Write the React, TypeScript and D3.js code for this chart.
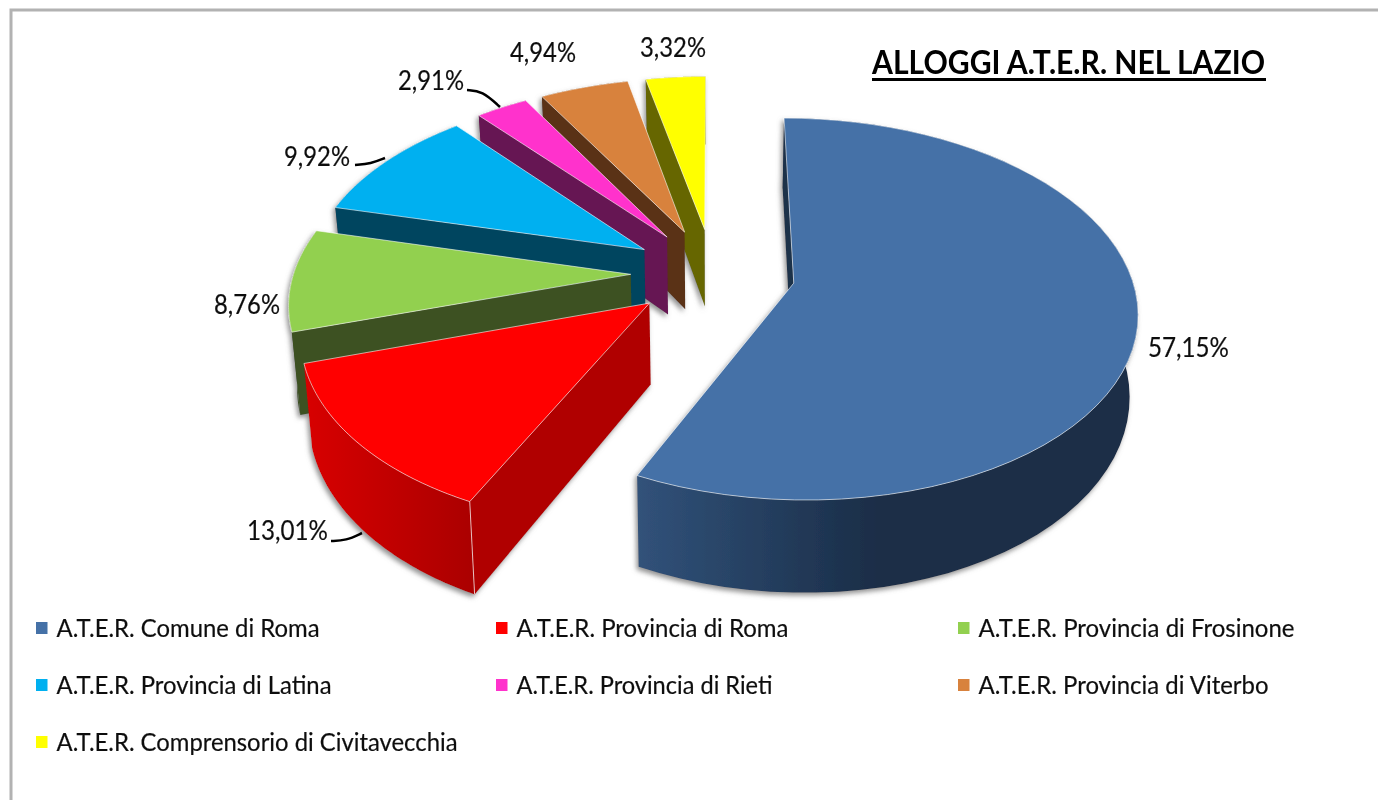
import React from "react";
import * as d3 from "d3";

const categories = [
  "A.T.E.R. Comune di Roma",
  "A.T.E.R. Provincia di Roma",
  "A.T.E.R. Provincia di Frosinone",
  "A.T.E.R. Provincia di Latina",
  "A.T.E.R. Provincia di Rieti",
  "A.T.E.R. Provincia di Viterbo",
  "A.T.E.R. Comprensorio di Civitavecchia",
];
const values = [57.15, 13.01, 8.76, 9.92, 2.91, 4.94, 3.32];
const valueLabels = ["57,15%", "13,01%", "8,76%", "9,92%", "2,91%", "4,94%", "3,32%"];
const topColors = ["#4471a7", "#ff0000", "#92d050", "#00b0f0", "#ff33cc", "#d8823c", "#ffff00"];
const faceColors = ["#1c3048", "#b00000", "#3d5120", "#00455f", "#661353", "#5a3318", "#666600"];
const wallStart = ["#31527a", "#d80000", "#3d5120", "#00455f", "#661353", "#5a3318", "#666600"];
const wallEnd = ["#1a2d47", "#aa0000", "#3d5120", "#00455f", "#661353", "#5a3318", "#666600"];

const labelX = [1148, 247, 214, 284, 398, 510, 640];
const labelY = [357, 540, 314, 166, 90, 62, 57];
const legendTextWidths = [263, 272, 316, 275, 256, 290, 401];
const leaders: [number, number][][] = [
  [],
  [[331, 541], [346, 541], [362, 533]],
  [],
  [[355, 165], [371, 164], [385, 158]],
  [[467, 90], [482, 90], [500, 107]],
  [],
  [],
];

// Pseudo-3D projection of the tilted pie
const CX = 713, CY = 273, RX = 337, RY = 184.7, PERSP = 0.135, DEPTH = 79.5, EXPLODE = 0.244, LEAN = 0.02;
const project = (X: number, Y: number, Z: number): [number, number] => {
  const s = 1 / (1 + PERSP * Y);
  return [CX + RX * X * s * (1 - LEAN * Z), CY - RY * Y * s + DEPTH * Z * s];
};

const arcs = d3.pie<number>().sort(null).startAngle(0).endAngle(2 * Math.PI)(values);
const line = d3.line();

const slices = arcs.map((a, i) => {
  const mid = (a.startAngle + a.endAngle) / 2;
  const ox = EXPLODE * Math.sin(mid);
  const oy = EXPLODE * Math.cos(mid);
  const steps = d3.range(0, 61).map((k) => a.startAngle + ((a.endAngle - a.startAngle) * k) / 60);
  const rim = (z: number) => steps.map((t) => project(ox + Math.sin(t), oy + Math.cos(t), z));
  const top = rim(0);
  const bottom = rim(1);
  const apex = project(ox, oy, 0);
  const apexB = project(ox, oy, 1);
  const topPath = line([apex, ...top])! + "Z";
  const wallPath = line([...top, ...bottom.slice().reverse()])! + "Z";
  const startFace = line([apex, top[0], bottom[0], apexB])! + "Z";
  const corner = line([top[0], bottom[0]])!;
  return { i, topPath, wallPath, startFace, corner };
});

const order = d3.range(values.length).slice(1).reverse().concat([0]);

const legendCols = [36, 496, 958];
const legendRows = [622, 679, 736];
const font = "Lato, 'Open Sans', sans-serif";

export default function App() {
  return (
    <svg width={1378} height={800} style={{ position: "absolute", left: 0, top: 0, background: "#fff" }}>
      <defs>
        <filter id="soft" x="-5%" y="-5%" width="110%" height="110%">
          <feGaussianBlur stdDeviation="0.6" />
        </filter>
        <filter id="shadow" x="-10%" y="-10%" width="120%" height="120%">
          <feDropShadow dx="-2" dy="3" stdDeviation="2.5" floodColor="#777" floodOpacity="0.8" />
        </filter>
        {slices.map((s) => (
          <linearGradient key={s.i} id={`wall${s.i}`} x1="0" x2="1" y1="0" y2="0">
            <stop offset="0" stopColor={wallStart[s.i]} />
            <stop offset={s.i === 0 ? 0.48 : 1} stopColor={wallEnd[s.i]} />
            <stop offset="1" stopColor={wallEnd[s.i]} />
          </linearGradient>
        ))}
      </defs>
      <g filter="url(#soft)">
        <path d="M11,800V10H1378" fill="none" stroke="#b2b2b2" strokeWidth={3} />
        <g filter="url(#shadow)">
          {order.map((i) => {
            const s = slices[i];
            return (
              <g key={i}>
                <path d={s.wallPath} fill={`url(#wall${i})`} />
                <path d={s.startFace} fill={faceColors[i]} />
                {i === 1 && <path d={s.corner} stroke="#fff" strokeOpacity={0.7} strokeWidth={1} fill="none" />}
                <path d={s.topPath} fill={topColors[i]} stroke="#fff" strokeOpacity={0.65} strokeWidth={0.9} strokeLinejoin="round" />
              </g>
            );
          })}
        </g>
        {valueLabels.map((t, i) => (
          <text key={t} x={labelX[i]} y={labelY[i]} fontFamily={font} fontSize={27} fill="#111" stroke="#111" strokeWidth={0.2} textLength={i < 2 ? 81 : 66} lengthAdjust="spacingAndGlyphs">
            {t}
          </text>
        ))}
        {leaders.map((pts, i) =>
          pts.length ? (
            <path key={i} d={d3.line().curve(d3.curveBundle.beta(0.9))(pts)!} fill="none" stroke="#000" strokeWidth={2.5} />
          ) : null
        )}
        <text x={872} y={74} fontFamily={font} fontWeight={700} fontSize={33} fill="#000" textLength={393} lengthAdjust="spacingAndGlyphs">
          ALLOGGI A.T.E.R. NEL LAZIO
        </text>
        <line x1={872} x2={1266} y1={79.5} y2={79.5} stroke="#000" strokeWidth={3} />
        {categories.map((c, i) => {
          const col = i % 3;
          const row = Math.floor(i / 3);
          const x = legendCols[col];
          const y = legendRows[row];
          return (
            <g key={c}>
              <rect x={x} y={y} width={11.5} height={12} fill={topColors[i]} />
              <text x={x + 20.5} y={y + 14.5} fontFamily={font} fontSize={24.5} fill="#111" stroke="#111" strokeWidth={0.2} textLength={legendTextWidths[i]} lengthAdjust="spacingAndGlyphs">
                {c}
              </text>
            </g>
          );
        })}
      </g>
    </svg>
  );
}
